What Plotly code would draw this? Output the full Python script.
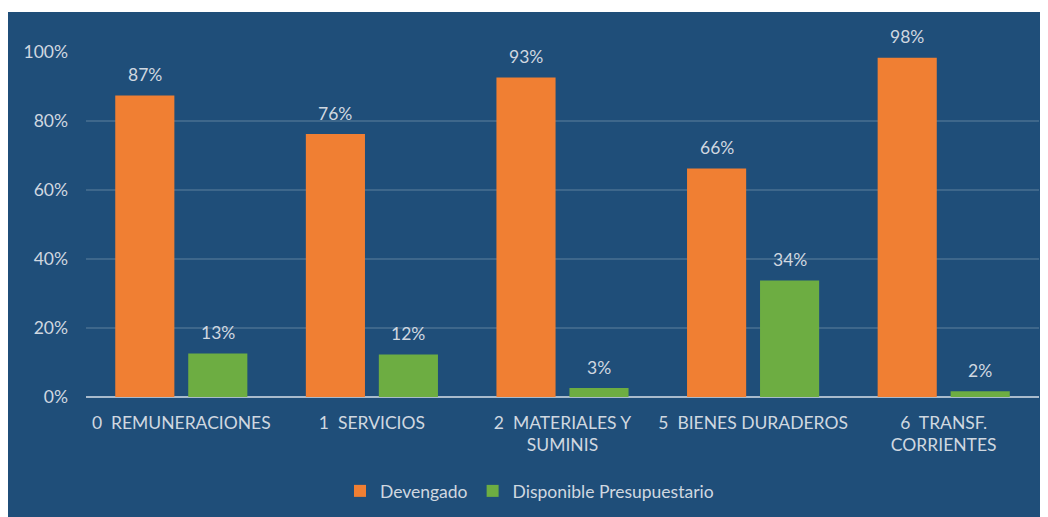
import plotly.graph_objects as go

categories = [
    "0\u00a0 REMUNERACIONES",
    "1\u00a0 SERVICIOS",
    "2\u00a0 MATERIALES Y<br>SUMINIS",
    "5\u00a0 BIENES DURADEROS",
    "6\u00a0 TRANSF.<br>CORRIENTES",
]
devengado = [0.874, 0.762, 0.926, 0.662, 0.983]
disponible = [0.126, 0.123, 0.026, 0.338, 0.017]
series_names = ["Devengado", "Disponible Presupuestario"]
y_ticks = [0, 0.2, 0.4, 0.6, 0.8, 1.0]
y_ticklabels = ["0%", "20%", "40%", "60%", "80%", "100%"]

W, H = 1048, 517
ML, MR, MT, MB = 78, 17, 44, 128
BG = "#1F4E79"
TXT = "#D0D8E0"
FONT = "Lato, Calibri, Carlito, sans-serif"
FS = 17.5
colors = ["#F07F33", "#6DAD42"]
BARGAP, GROUPGAP = 0.234, 0.19

fig = go.Figure()
for name, vals, col in zip(series_names, [devengado, disponible], colors):
    fig.add_trace(go.Bar(
        x=categories, y=vals, name=name,
        marker=dict(color=col, line=dict(width=0)),
        hoverinfo="skip",
    ))

# data labels above bars
plot_w = W - ML - MR
plot_h = H - MT - MB
cat_w = plot_w / len(categories)
slot = cat_w * (1 - BARGAP) / 2
for si, vals in enumerate([devengado, disponible]):
    xshift = (si - 0.5) * slot
    for c, v in zip(categories, vals):
        fig.add_annotation(
            x=c, y=v, xref="x", yref="y", text=f"{v:.0%}",
            showarrow=False, xshift=xshift, yshift=21,
            yanchor="middle", xanchor="center",
            font=dict(family=FONT, size=FS, color=TXT),
        )

# thin white strip at the top of the frame
fig.add_shape(type="rect", xref="paper", yref="paper", layer="above",
              x0=-ML / plot_w, x1=(W - ML) / plot_w,
              y0=(H - 4 - MB) / plot_h, y1=(H - MB) / plot_h,
              fillcolor="white", line=dict(width=0))

fig.update_layout(
    width=W, height=H,
    margin=dict(l=ML, r=MR, t=MT, b=MB),
    paper_bgcolor=BG, plot_bgcolor=BG,
    barmode="group", bargap=BARGAP, bargroupgap=GROUPGAP,
    font=dict(family=FONT, size=FS, color=TXT),
    showlegend=True,
    legend=dict(orientation="h", x=(340 - ML - 8) / plot_w, xanchor="left",
                y=(34 - MB) / plot_h, yanchor="middle",
                font=dict(family=FONT, size=FS, color=TXT),
                itemwidth=30, traceorder="normal"),
    xaxis=dict(showgrid=False, showline=False, ticks="",
               tickfont=dict(family=FONT, size=FS, color=TXT),
               ticklabelstandoff=13, zeroline=False),
    yaxis=dict(range=[0, 1.0], tickvals=y_ticks, ticktext=y_ticklabels,
               showgrid=True, gridcolor="rgba(255,255,255,0.14)", gridwidth=1.5,
               zeroline=True, zerolinecolor="#A9BBCC", zerolinewidth=2,
               showline=False, ticks="",
               tickfont=dict(family=FONT, size=FS, color=TXT),
               ticklabelstandoff=17),
)

fig.write_html("out.html")
